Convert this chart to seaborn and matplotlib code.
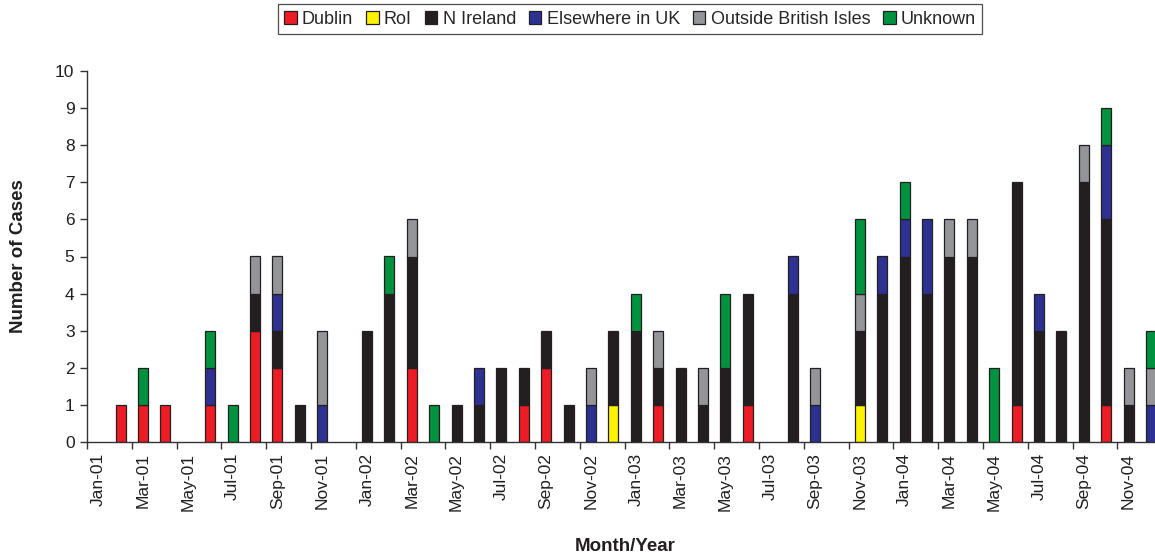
import numpy as np
import pandas as pd
import seaborn as sns
import matplotlib
matplotlib.use("Agg")
from matplotlib import pyplot as plt
from matplotlib.patches import Patch
from matplotlib.ticker import FixedLocator

# monthly cases Jan-01 .. Dec-04, by place of origin
months = pd.date_range("2001-01-01", periods=48, freq="MS").strftime("%b-%y").tolist()

dublin = [0, 1, 1, 1, 0, 1, 0, 3, 2, 0, 0, 0,
          0, 0, 2, 0, 0, 0, 0, 1, 2, 0, 0, 0,
          0, 1, 0, 0, 0, 1, 0, 0, 0, 0, 0, 0,
          0, 0, 0, 0, 0, 1, 0, 0, 0, 1, 0, 0]
roi = [0, 0, 0, 0, 0, 0, 0, 0, 0, 0, 0, 0,
       0, 0, 0, 0, 0, 0, 0, 0, 0, 0, 0, 1,
       0, 0, 0, 0, 0, 0, 0, 0, 0, 0, 1, 0,
       0, 0, 0, 0, 0, 0, 0, 0, 0, 0, 0, 0]
n_ireland = [0, 0, 0, 0, 0, 0, 0, 1, 1, 1, 0, 0,
             3, 4, 3, 0, 1, 1, 2, 1, 1, 1, 0, 2,
             3, 1, 2, 1, 2, 3, 0, 4, 0, 0, 2, 4,
             5, 4, 5, 5, 0, 6, 3, 3, 7, 5, 1, 0]
elsewhere_uk = [0, 0, 0, 0, 0, 1, 0, 0, 1, 0, 1, 0,
                0, 0, 0, 0, 0, 1, 0, 0, 0, 0, 1, 0,
                0, 0, 0, 0, 0, 0, 0, 1, 1, 0, 0, 1,
                1, 2, 0, 0, 0, 0, 1, 0, 0, 2, 0, 1]
outside_bi = [0, 0, 0, 0, 0, 0, 0, 1, 1, 0, 2, 0,
              0, 0, 1, 0, 0, 0, 0, 0, 0, 0, 1, 0,
              0, 1, 0, 1, 0, 0, 0, 0, 1, 0, 1, 0,
              0, 0, 1, 1, 0, 0, 0, 0, 1, 0, 1, 1]
unknown = [0, 0, 1, 0, 0, 1, 1, 0, 0, 0, 0, 0,
           0, 1, 0, 1, 0, 0, 0, 0, 0, 0, 0, 0,
           1, 0, 0, 0, 2, 0, 0, 0, 0, 0, 2, 0,
           1, 0, 0, 0, 2, 0, 0, 0, 0, 1, 0, 1]

series = ["Dublin", "RoI", "N Ireland", "Elsewhere in UK", "Outside British Isles", "Unknown"]
values = [dublin, roi, n_ireland, elsewhere_uk, outside_bi, unknown]
colors = ["#ed1c24", "#fff200", "#231f20", "#2e3192", "#939598", "#00923f"]

sns.set_theme(style="ticks")
plt.rcParams["font.family"] = ["Liberation Sans", "DejaVu Sans"]

fig = plt.figure(figsize=(11.55, 5.55), dpi=100)
ax = fig.add_axes([87 / 1155, 1 - 442 / 555, (1155 - 87) / 1155, (442 - 71) / 555])

edge = "#231f20"
bottom = np.zeros(len(months))
for name, vals, col in zip(series, values, colors):
    df = pd.DataFrame({"month": months, "cases": vals})
    sns.barplot(data=df, x="month", y="cases", order=months, color=col,
                width=0.45, bottom=bottom.copy(), edgecolor=edge, linewidth=0.9,
                saturation=1, errorbar=None, ax=ax)
    bottom += np.array(vals)

# empty segments should not leave an outline behind
for p in ax.patches:
    if p.get_height() == 0:
        p.set_linewidth(0)

ax.set_ylim(0, 10)
ax.set_yticks(range(0, 11))
ax.set_xlim(-0.5, 47.18)

# labels on every other month, tick marks at the left edge of each label's pair
ax.set_xticks(range(0, 48, 2))
ax.set_xticklabels(months[::2], rotation=90)
ax.xaxis.set_minor_locator(FixedLocator(np.arange(-0.5, 48, 2)))
ax.tick_params(axis="x", which="major", length=0, pad=8, labelsize=12.5, colors="#231f20")
ax.tick_params(axis="x", which="minor", length=5, width=1, color="#333333", direction="out")
ax.tick_params(axis="y", length=5, width=1, color="#333333", labelsize=12.5,
               labelcolor="#231f20", pad=4)

for s in ["top", "right"]:
    ax.spines[s].set_visible(False)
for s in ["left", "bottom"]:
    ax.spines[s].set_color("#333333")
    ax.spines[s].set_linewidth(1)

ax.set_xlabel("Month/Year", fontsize=13.5, fontweight="bold", color="#231f20")
ax.set_ylabel("Number of Cases", fontsize=13.5, fontweight="bold", color="#231f20")
ax.xaxis.set_label_coords(0.504, -0.258)
ax.yaxis.set_label_coords(-0.056, 0.5)

handles = [Patch(facecolor=c, edgecolor=edge, linewidth=0.9) for c in colors]
leg = fig.legend(handles, series, loc="center", bbox_to_anchor=(630 / 1155, 1 - 19 / 555),
                 ncol=6, frameon=True, fancybox=False, fontsize=13,
                 handlelength=0.7, handleheight=0.7, handletextpad=0.3,
                 columnspacing=0.7, borderpad=0.35)
leg.get_frame().set_edgecolor("#231f20")
leg.get_frame().set_linewidth(0.9)

fig.savefig("out.png", dpi=100, facecolor="white")
